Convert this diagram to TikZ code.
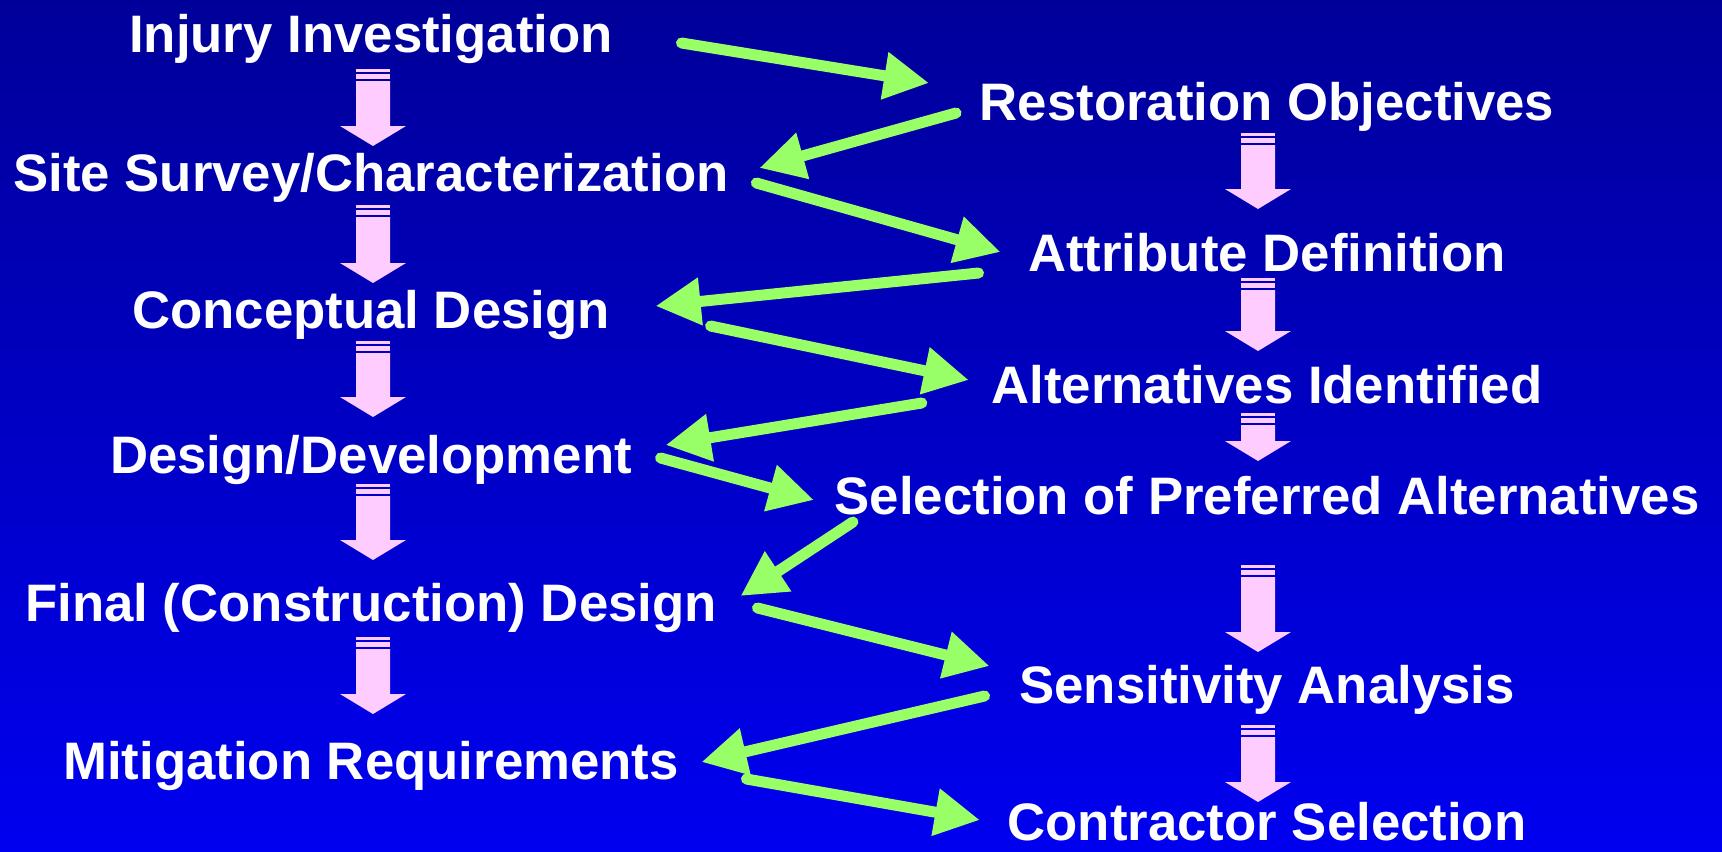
\documentclass[tikz,border=0pt]{standalone}
\usepackage{fontspec}
\setmainfont{Liberation Sans}
\usepackage{tikz}
\usetikzlibrary{arrows.meta}
\definecolor{bgtop}{RGB}{0,0,153}
\definecolor{bgbottom}{RGB}{0,0,240}
\definecolor{arrowpink}{RGB}{255,204,255}
\definecolor{arrowgreen}{RGB}{153,255,102}
\tikzset{
    stage/.style={text=white, font=\bfseries\fontsize{15}{18}\selectfont, inner sep=0pt, anchor=base},
    line/.style={draw=arrowgreen, line width=1.1mm, line cap=round, -{Triangle[length=4.5mm, width=4.5mm]}},
    pinkfill/.style={fill=arrowpink}
}
% striped block arrow: centre x, top, tip
\newcommand{\pinkdown}[3]{
    \fill[pinkfill] (#1-17,#2) rectangle (#1+17,#2+3);
    \fill[pinkfill] (#1-17,#2+5) rectangle (#1+17,#2+10);
    \fill[pinkfill] (#1-17,#2+12) -- (#1+17,#2+12) -- (#1+17,#3-20) -- (#1+33,#3-20)
        -- (#1,#3) -- (#1-33,#3-20) -- (#1-17,#3-20) -- cycle;
}

\begin{document}
\begin{tikzpicture}[x=0.01cm, y=-0.01cm]
    \fill[top color=bgtop, bottom color=bgbottom] (0,0) rectangle (1722,851);

    \pinkdown{373}{69}{146} \pinkdown{373}{205}{283} \pinkdown{373}{341}{417}
    \pinkdown{373}{484}{560} \pinkdown{373}{637}{714}
    \pinkdown{1258}{133}{209} \pinkdown{1258}{278}{351} \pinkdown{1258}{413}{461}
    \pinkdown{1258}{565}{652} \pinkdown{1258}{725}{802}

    \node [stage] (inj) at (371,52) {Injury Investigation};
    \node [stage] (site) at (371,191) {Site Survey/Characterization};
    \node [stage] (concept) at (371,328) {Conceptual Design};
    \node [stage] (devel) at (371,473) {Design/Development};
    \node [stage] (final) at (371,621) {Final (Construction) Design};
    \node [stage] (mitig) at (371,779) {Mitigation Requirements};

    \node [stage] (restor) at (1267,120) {Restoration Objectives};
    \node [stage] (attrib) at (1267,271) {Attribute Definition};
    \node [stage] (altern) at (1267,403) {Alternatives Identified};
    \node [stage] (select) at (1267,514) {Selection of Preferred Alternatives};
    \node [stage] (sensit) at (1267,703) {Sensitivity Analysis};
    \node [stage] (contract) at (1267,840) {Contractor Selection};

    \draw [line] ([shift={(68,-9)}]inj.base east) -- ([shift={(-50,-37)}]restor.base west);
    \draw [line] ([shift={(-23,-7)}]restor.base west) -- ([shift={(30,-23)}]site.base east);
    \draw [line] ([shift={(27,-8)}]site.base east) -- ([shift={(-27,-19)}]attrib.base west);
    \draw [line] ([shift={(-49,2)}]attrib.base west) -- ([shift={(45,-22)}]concept.base east);
    \draw [line] ([shift={(100,-2)}]concept.base east) -- ([shift={(-22,-23)}]altern.base west);
    \draw [line] ([shift={(-69,0)}]altern.base west) -- ([shift={(33,-28)}]devel.base east);
    \draw [line] ([shift={(28,-15)}]devel.base east) -- ([shift={(-20,-14)}]select.base west);
    \draw [line] ([shift={(19,8)}]select.base west) -- ([shift={(23,-25)}]final.base east);
    \draw [line] ([shift={(40,-13)}]final.base east) -- ([shift={(-29,-37)}]sensit.base west);
    \draw [line] ([shift={(-34,-7)}]sensit.base west) -- ([shift={(22,-17)}]mitig.base east);
    \draw [line] ([shift={(67,0)}]mitig.base east) -- ([shift={(-27,-20)}]contract.base west);
\end{tikzpicture}
\end{document}
